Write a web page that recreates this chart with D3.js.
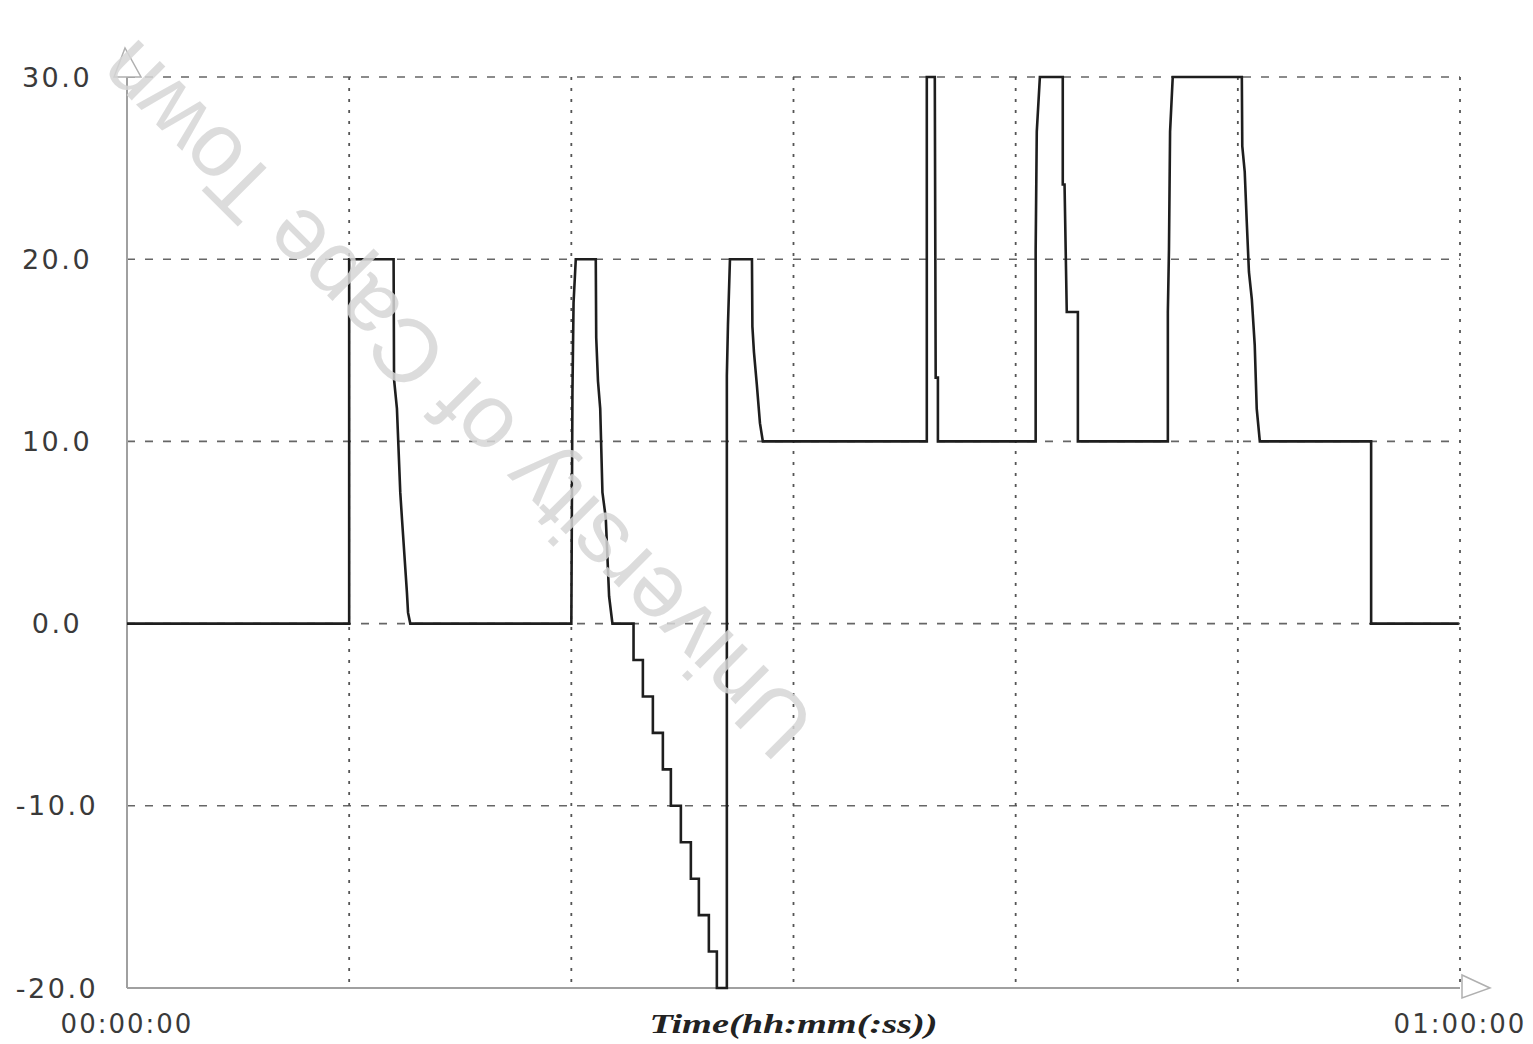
<!DOCTYPE html>
<html>
<head>
<meta charset="utf-8">
<script src="https://cdn.jsdelivr.net/npm/d3@7"></script>
<style>
  html, body { margin: 0; padding: 0; background: #fff; }
  svg { display: block; }
</style>
</head>
<body>
<script>
// Setpoint profile over one hour: time in minutes, value in the plotted units.
const timeMin = [
  0, 10.0, 10.0, 12.0, 12.02, 12.15, 12.3, 12.38, 12.6, 12.65, 12.75,
  20.0, 20.05, 20.1, 20.2, 21.1, 21.12, 21.2, 21.3, 21.4, 21.55, 21.7, 21.85,
  22.8, 22.8, 23.22, 23.22, 23.67, 23.67, 24.12, 24.12, 24.48, 24.48, 24.93, 24.93,
  25.38, 25.38, 25.74, 25.74, 26.19, 26.19, 26.55, 26.55, 27.0,
  27.0, 27.05, 27.14, 28.13, 28.15, 28.22, 28.35, 28.49, 28.62,
  36.0, 36.0, 36.36, 36.4, 36.5, 36.5,
  40.9, 40.9, 40.95, 41.09, 42.12, 42.12, 42.2, 42.3, 42.8, 42.8,
  46.85, 46.85, 46.9, 46.95, 47.07, 50.18, 50.2, 50.31, 50.4, 50.5, 50.63, 50.76, 50.85, 50.99,
  56.0, 56.0, 59.95
];
const setpoint = [
  0, 0, 20, 20, 13.4, 11.8, 7.2, 5.7, 1.7, 0.6, 0,
  0, 12.7, 17.6, 20, 20, 15.7, 13.3, 11.8, 7.2, 5.8, 1.5, 0,
  0, -2, -2, -4, -4, -6, -6, -8, -8, -10, -10, -12,
  -12, -14, -14, -16, -16, -18, -18, -20, -20,
  13.6, 16.4, 20, 20, 16.3, 14.9, 13.1, 11.0, 10,
  10, 30, 30, 13.5, 13.5, 10,
  10, 20.5, 27, 30, 30, 24.1, 24.1, 17.1, 17.1, 10,
  10, 17.1, 20.5, 27, 30, 30, 26.2, 24.8, 22.1, 19.3, 17.8, 15.3, 11.8, 10,
  10, 0, 0
];

const yTicks = [30, 20, 10, 0, -10, -20];
const xGridMin = [10, 20, 30, 40, 50, 60];
const xTickLabels = [
  { t: 0, label: "00:00:00" },
  { t: 60, label: "01:00:00" }
];
const xTitle = "Time(hh:mm(:ss))";
const watermark = "University of Cape Town";

const W = 1533, H = 1044;
const svg = d3.select("body").append("svg").attr("width", W).attr("height", H);

const x = d3.scaleLinear().domain([0, 60]).range([127, 1460]);
const y = d3.scaleLinear().domain([-20, 30]).range([988, 77]);

// grid
const grid = svg.append("g");
grid.selectAll("line.h").data(yTicks.filter(v => v > -20)).join("line")
  .attr("x1", x(0)).attr("x2", x(60))
  .attr("y1", d => y(d)).attr("y2", d => y(d))
  .attr("stroke", "#666").attr("stroke-width", 1.6)
  .attr("stroke-dasharray", "8,10");
grid.selectAll("line.v").data(xGridMin).join("line")
  .attr("x1", d => x(d)).attr("x2", d => x(d))
  .attr("y1", y(30)).attr("y2", y(-20))
  .attr("stroke", "#555").attr("stroke-width", 1.8)
  .attr("stroke-dasharray", "3,8");

// axes
const axisCol = "#a0a0a0";
svg.append("line").attr("x1", x(0)).attr("x2", x(0)).attr("y1", y(30)).attr("y2", y(-20))
  .attr("stroke", axisCol).attr("stroke-width", 2);
svg.append("line").attr("x1", x(0)).attr("x2", x(60)).attr("y1", y(-20)).attr("y2", y(-20))
  .attr("stroke", axisCol).attr("stroke-width", 2);
svg.append("path")
  .attr("d", `M${x(0) - 13},${y(30)} L${x(0) - 2},${y(30) - 29} L${x(0) + 14},${y(30)} Z`)
  .attr("fill", "#fff").attr("stroke", "#b0b0b0").attr("stroke-width", 1.5);
svg.append("path")
  .attr("d", `M${x(60) + 2},${y(-20) - 13} L${x(60) + 30},${y(-20)} L${x(60) + 2},${y(-20) + 10} Z`)
  .attr("fill", "#fff").attr("stroke", "#b0b0b0").attr("stroke-width", 1.5);

// series
const pts = timeMin.map((t, i) => [t, setpoint[i]]);
svg.append("path")
  .datum(pts)
  .attr("fill", "none")
  .attr("stroke", "#1e1e1e")
  .attr("stroke-width", 2.6)
  .attr("stroke-linejoin", "miter")
  .attr("d", d3.line().x(d => x(d[0])).y(d => y(d[1])));

// tick labels (plain hyphen for negatives)
const fmt = d3.formatLocale({ decimal: ".", thousands: ",", grouping: [3], currency: ["", ""], minus: "-" }).format(".1f");
svg.append("g").selectAll("text").data(yTicks).join("text")
  .attr("x", 57).attr("y", d => y(d))
  .attr("text-anchor", "middle").attr("dominant-baseline", "central")
  .attr("font-family", "DejaVu Sans, sans-serif").attr("font-size", 27)
  .attr("letter-spacing", 2.5)
  .attr("fill", "#3a3a3a")
  .text(d => fmt(d));

svg.append("g").selectAll("text").data(xTickLabels).join("text")
  .attr("x", d => x(d.t)).attr("y", 1024)
  .attr("text-anchor", "middle").attr("dominant-baseline", "central")
  .attr("font-family", "DejaVu Sans, sans-serif").attr("font-size", 26)
  .attr("letter-spacing", 2)
  .attr("fill", "#3a3a3a")
  .text(d => d.label);

svg.append("text")
  .attr("x", x(30)).attr("y", 1024)
  .attr("text-anchor", "middle").attr("dominant-baseline", "central")
  .attr("font-family", "Liberation Serif, serif").attr("font-size", 27)
  .attr("font-style", "italic").attr("font-weight", "bold")
  .attr("fill", "#222")
  .attr("textLength", 288).attr("lengthAdjust", "spacingAndGlyphs")
  .text(xTitle);

// watermark
svg.append("text")
  .attr("transform", "translate(455,400) rotate(225)")
  .attr("text-anchor", "middle").attr("dominant-baseline", "central")
  .attr("font-family", "Liberation Sans, Arial, sans-serif").attr("font-size", 90)
  .attr("fill", "#d6d6d6").attr("fill-opacity", 0.85)
  .text(watermark);
</script>
</body>
</html>
